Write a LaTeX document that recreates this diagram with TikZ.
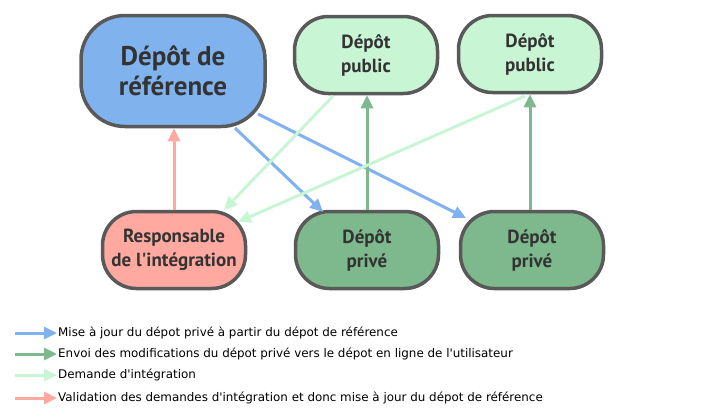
\documentclass[tikz,border=0pt]{standalone}
\usepackage{fontspec}
\setmainfont{DejaVu Sans}
\newfontfamily\boxfont{PT Sans}
\usetikzlibrary{arrows.meta}
\definecolor{refblue}{HTML}{80B3EE}
\definecolor{pubgreen}{HTML}{C8F5D4}
\definecolor{privgreen}{HTML}{7DB98C}
\definecolor{resppink}{HTML}{FFA9A0}
\definecolor{bordergray}{HTML}{595959}
\definecolor{txtgray}{HTML}{333333}
\definecolor{abl}{HTML}{7FB2EE}
\definecolor{adg}{HTML}{7DB98C}
\definecolor{alg}{HTML}{C8F5D4}
\definecolor{apk}{HTML}{FFA9A0}
\tikzset{
  repo/.style={draw=bordergray, line width=3.5pt, rounded corners=34pt, align=center,
    text=txtgray, font=\boxfont\bfseries\fontsize{19}{24}\selectfont,
    minimum width=143pt, minimum height=77pt, inner sep=0pt},
  conn/.style={line width=3pt, -{Triangle[length=13pt,width=12pt]}},
  legtext/.style={anchor=west, font=\fontsize{11.9}{14}\selectfont, inner sep=0pt}
}
\begin{document}
\begin{tikzpicture}[x=1pt,y=-1pt]
\useasboundingbox (0,0) rectangle (714,418);
\node[repo, fill=refblue, minimum width=184pt, minimum height=111pt, rounded corners=44pt,
  font=\boxfont\bfseries\fontsize{27}{30}\selectfont] (ref) at (173,71) {Dépôt de\\référence};
\node[repo, fill=pubgreen] (pub1) at (366,55) {Dépôt\\public};
\node[repo, fill=pubgreen] (pub2) at (530,54) {Dépôt\\public};
\node[repo, fill=resppink] (resp) at (174,250) {Responsable\\de l\textquotesingle intégration};
\node[repo, fill=privgreen] (priv1) at (367,250) {Dépôt\\privé};
\node[repo, fill=privgreen] (priv2) at (532,250) {Dépôt\\privé};

\coordinate (rb1) at (235,128);
\coordinate (rb2) at (258,114);
\coordinate (p1t) at (323,212);
\coordinate (p2t) at (466,218);
\coordinate (pub1b) at (333,96);
\coordinate (pub2b) at (525,96);
\coordinate (resp1) at (224,210);
\coordinate (resp2) at (238,222);

\draw[conn, apk] (resp.north) -- (resp.north |- ref.south);
\draw[conn, abl] (rb1) -- (p1t);
\draw[conn, abl] (rb2) -- (p2t);
\draw[conn, adg] (priv1.north) -- (priv1.north |- pub1.south);
\draw[conn, adg] (priv2.north -| pub2.south) -- (pub2.south);
\draw[conn, alg] (pub1b) -- (resp1);
\draw[conn, alg] (pub2b) -- (resp2);

% legend
\coordinate (l1a) at (15,333); \coordinate (l1b) at (57,333);
\coordinate (l2a) at (15,354); \coordinate (l2b) at (57,354);
\coordinate (l3a) at (15,375); \coordinate (l3b) at (57,375);
\coordinate (l4a) at (15,398); \coordinate (l4b) at (57,398);
\draw[conn, abl] (l1a) -- (l1b);
\draw[conn, adg] (l2a) -- (l2b);
\draw[conn, alg] (l3a) -- (l3b);
\draw[conn, apk] (l4a) -- (l4b);
\node[legtext] (t1) at (58,333) {Mise à jour du dépot privé à partir du dépot de référence};
\node[legtext] (t2) at (58,354) {Envoi des modifications du dépot privé vers le dépot en ligne de l\textquotesingle utilisateur};
\node[legtext] (t3) at (58,375) {Demande d\textquotesingle intégration};
\node[legtext] (t4) at (58,398) {Validation des demandes d\textquotesingle intégration et donc mise à jour du dépot de référence};
\end{tikzpicture}
\end{document}
